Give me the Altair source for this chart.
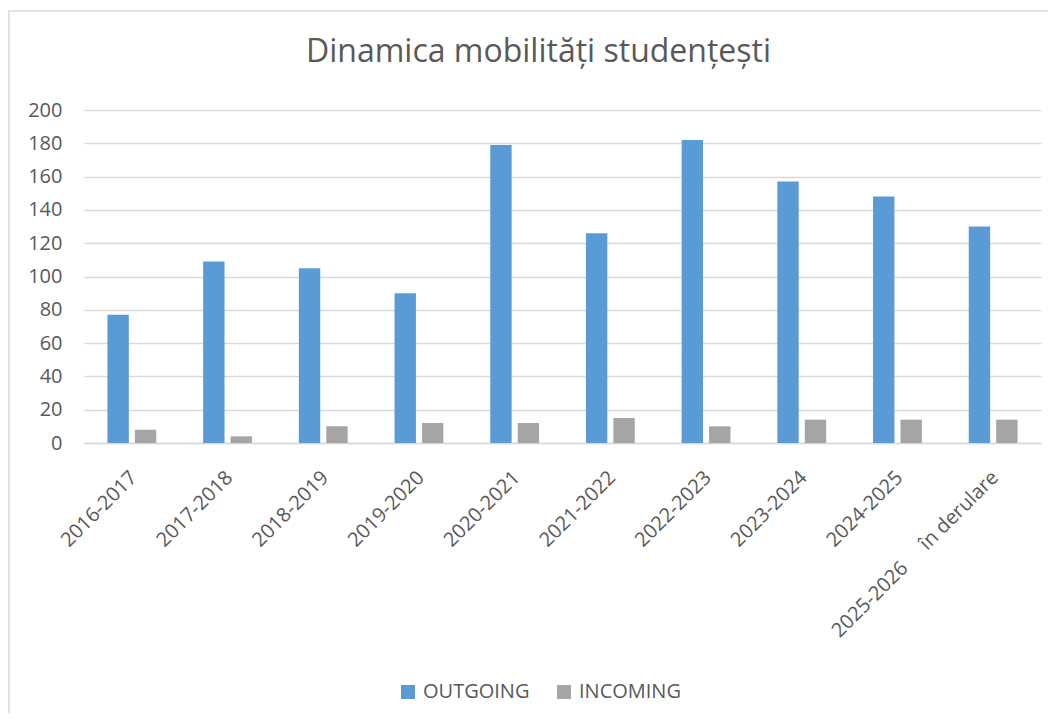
import altair as alt
import pandas as pd

years = ["2016-2017", "2017-2018", "2018-2019", "2019-2020", "2020-2021",
         "2021-2022", "2022-2023", "2023-2024", "2024-2025",
         "2025-2026\u00a0\u00a0\u00a0\u00a0\u00a0în derulare"]
outgoing = [77, 109, 105, 90, 179, 126, 182, 157, 148, 130]
incoming = [8, 4, 10, 12, 12, 15, 10, 14, 14, 14]
series = ["OUTGOING", "INCOMING"]
colors = ["#5B9BD5", "#A5A5A5"]
y_ticks = [0, 20, 40, 60, 80, 100, 120, 140, 160, 180, 200]

rows = []
for i, yr in enumerate(years):
    rows.append({"an": yr, "serie": "OUTGOING", "valoare": outgoing[i]})
    rows.append({"an": yr, "serie": "INCOMING", "valoare": incoming[i]})
df = pd.DataFrame(rows)

FONT = "Open Sans"
TXT = "#595959"
GRID = "#D9D9D9"

frame = alt.Chart(pd.DataFrame({"k": [0]})).mark_rect(
    fillOpacity=0, stroke=GRID, strokeWidth=1.5
).encode(
    x=alt.value(-75), x2=alt.value(1000),
    y=alt.value(-99), y2=alt.value(700)
)

bars = alt.Chart(df).mark_bar().encode(
    x=alt.X("an:N", sort=years, title=None,
            scale=alt.Scale(paddingInner=0.49, paddingOuter=0.245),
            axis=alt.Axis(labelAngle=-45, labelAlign="right", labelBaseline="top",
                          labelPadding=24, labelOffset=-5, ticks=False, domain=True,
                          domainColor=GRID, domainWidth=1.5,
                          labelFont=FONT, labelFontSize=20, labelColor=TXT,
                          labelLimit=400, labelOverlap=False, grid=False)),
    xOffset=alt.XOffset("serie:N", sort=series,
                        scale=alt.Scale(paddingInner=0.22)),
    y=alt.Y("valoare:Q", title=None,
            scale=alt.Scale(domain=[0, 200], nice=False),
            axis=alt.Axis(values=y_ticks, ticks=False, domain=False,
                          labelPadding=22, labelFont=FONT, labelFontSize=20,
                          labelColor=TXT, gridColor=GRID, gridWidth=1.5)),
    color=alt.Color("serie:N", sort=series,
                    scale=alt.Scale(domain=series, range=colors),
                    legend=alt.Legend(orient="none", legendX=314, legendY=572,
                                      direction="horizontal", title=None,
                                      symbolType="square", symbolSize=196,
                                      symbolStrokeWidth=0, symbolOpacity=1,
                                      labelFont=FONT, labelFontSize=20,
                                      labelColor=TXT, labelOffset=5,
                                      columnPadding=24)),
)

chart = alt.layer(frame, bars).properties(
    width=957, height=333,
    autosize=alt.AutoSizeParams(type="none"),
    padding={"left": 76, "top": 102, "right": 7, "bottom": 270},
    title=alt.TitleParams(text="Dinamica mobilități studențești",
                          anchor="middle", dx=-24, offset=-84,
                          baseline="alphabetic",
                          font=FONT, fontSize=32, fontWeight="normal",
                          color=TXT),
).configure_view(stroke=None)

chart.save("out.html", embed_options={"renderer": "svg", "actions": False})
